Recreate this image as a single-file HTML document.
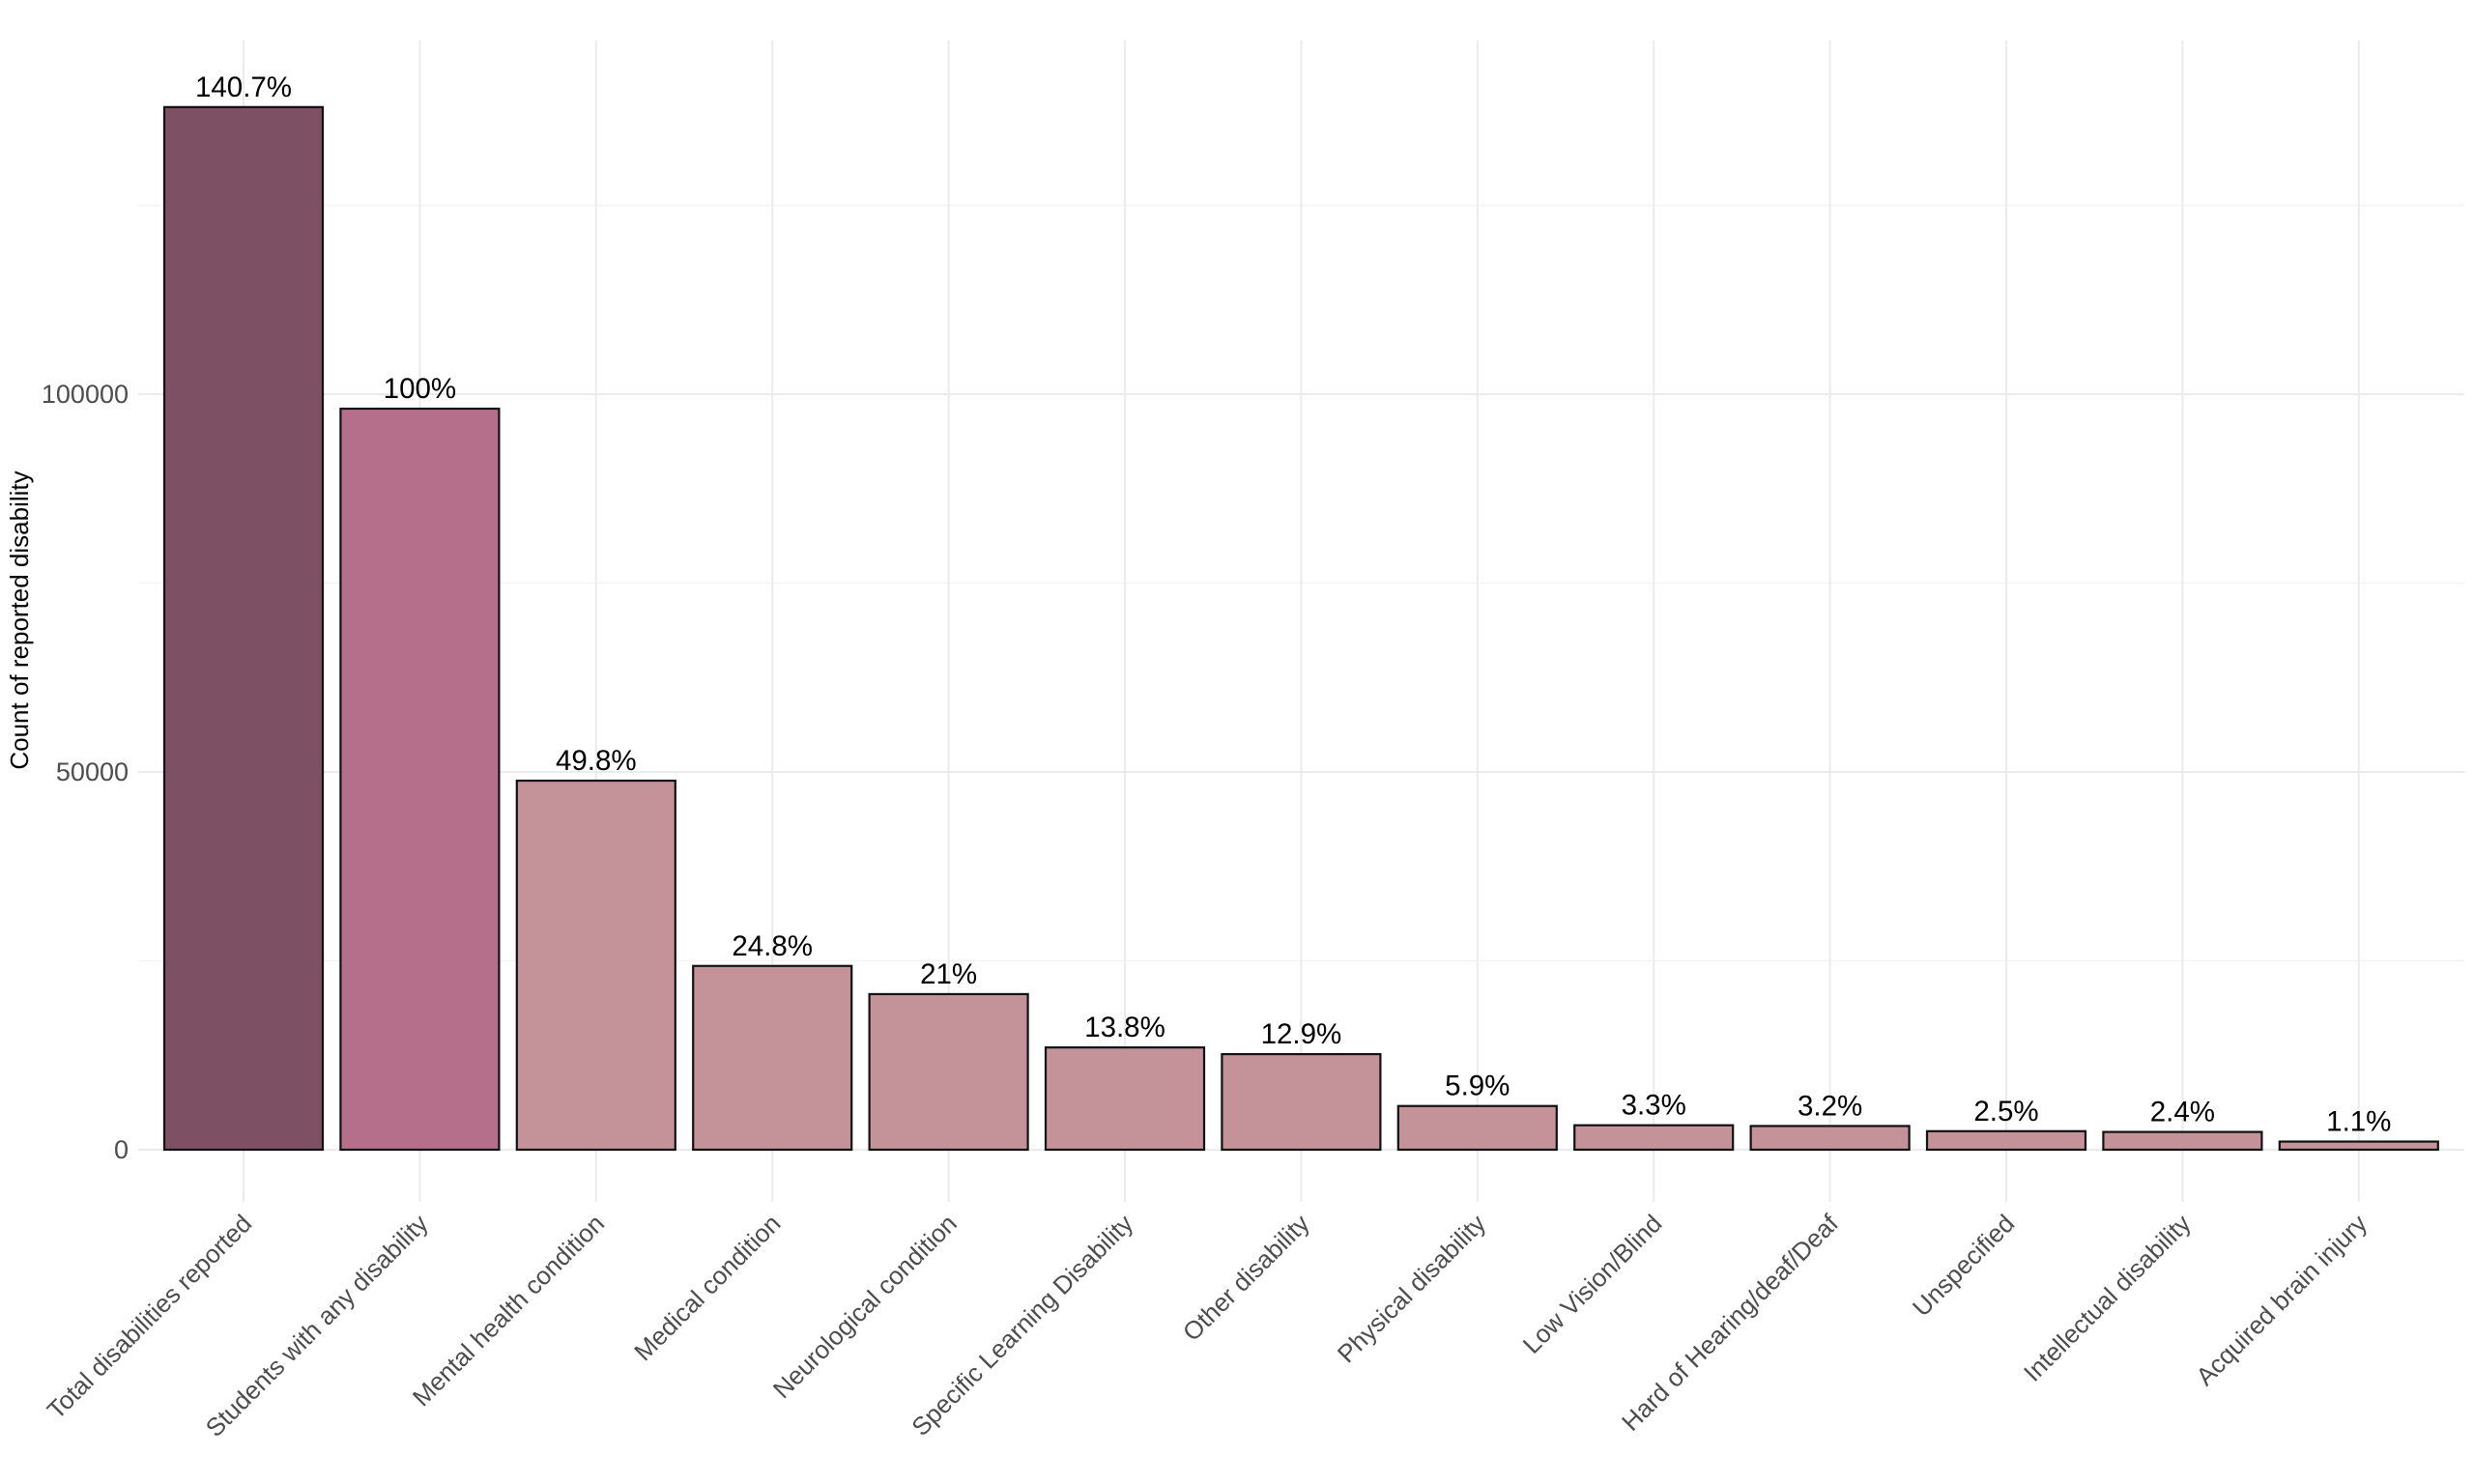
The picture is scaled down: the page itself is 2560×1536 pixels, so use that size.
<!DOCTYPE html>
<html><head><meta charset="utf-8"><style>
html,body{margin:0;padding:0;background:#fff;}
svg{display:block;}
</style></head><body>
<svg width="2560" height="1536" xmlns="http://www.w3.org/2000/svg" font-family="Liberation Sans, sans-serif">
<rect width="2560" height="1536" fill="#fff"/>
<g stroke="#f3f3f3" stroke-width="1.5">
<line x1="143" x2="2550" y1="994.5" y2="994.5"/>
<line x1="143" x2="2550" y1="603.5" y2="603.5"/>
<line x1="143" x2="2550" y1="212.5" y2="212.5"/>
</g>
<g stroke="#ebebeb" stroke-width="2">
<line x1="143" x2="2550" y1="1190" y2="1190"/>
<line x1="143" x2="2550" y1="799" y2="799"/>
<line x1="143" x2="2550" y1="408" y2="408"/>
</g>
<g stroke="#ebebeb" stroke-width="2" id="vg"></g>
<g id="bars"></g>
<g id="labs" font-size="29.5" fill="#000" text-anchor="middle"></g>
<g id="xl" font-size="26" fill="#4d4d4d" text-anchor="end"></g>
<g font-size="27" fill="#4d4d4d" text-anchor="end">
<text x="133" y="1199">0</text>
<text x="133" y="808">50000</text>
<text x="133" y="417">100000</text>
</g>
<text transform="translate(29,642) rotate(-90)" font-size="26" fill="#000" text-anchor="middle">Count of reported disability</text>
<script>
(function(){
var names=["Total disabilities reported","Students with any disability","Mental health condition","Medical condition","Neurological condition","Specific Learning Disability","Other disability","Physical disability","Low Vision/Blind","Hard of Hearing/deaf/Deaf","Unspecified","Intellectual disability","Acquired brain injury"];
var pct=[140.7,100,49.8,24.8,21,13.8,12.9,5.9,3.3,3.2,2.5,2.4,1.1];
var ns="http://www.w3.org/2000/svg";
function el(t,a,p,txt){var e=document.createElementNS(ns,t);for(var k in a)e.setAttribute(k,a[k]);if(txt!==undefined)e.textContent=txt;document.getElementById(p).appendChild(e);}
for(var i=0;i<13;i++){
 var cx=252+182.4*i;
 el("line",{x1:cx,x2:cx,y1:42,y2:1244},"vg");
 var h=pct[i]*7.67, by=1190-h;
 var fill=i==0?"#7d5163":(i==1?"#b56f8a":"#c49299");
 el("rect",{x:cx-82,y:by,width:164,height:h,fill:fill,stroke:"#111","stroke-width":2.2},"bars");
 el("text",{x:cx,y:by-11},"labs",(pct[i]+"%"));
 el("text",{transform:"translate("+(cx+10)+",1268) rotate(-45)"},"xl",names[i]);
}
})();
</script>
</svg>
</body></html>
